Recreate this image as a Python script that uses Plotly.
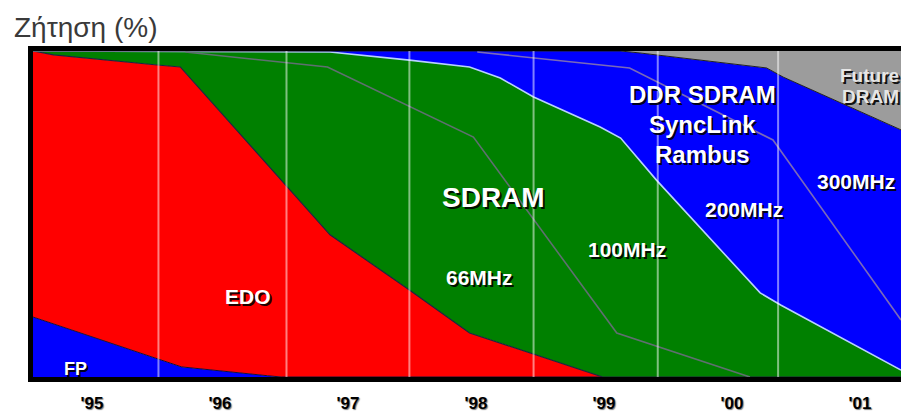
import plotly.graph_objects as go

# ---------------- data (cumulative upper boundaries, % of demand) ----------------
x_start, x_end = 1994.54, 2001.32

fp_x = [1994.54, 1995.51, 1995.70, 1996.37, 1996.48, 2001.32]
fp_upper = [18.4, 5.8, 3.1, 0.4, 0, 0]

edo_x = [1994.54, 1994.70, 1995.51, 1995.69, 1996.86, 1997.48, 1997.95, 1998.99, 2001.32]
edo_upper = [100, 98.8, 95.7, 95.1, 43.6, 26.7, 13.5, 0, 0]

sdram_x = [1994.54, 1996.86, 1997.48, 1997.95, 1998.19, 1998.45, 1998.97, 1999.13,
           1999.41, 1999.77, 2000.22, 2000.38, 2001.32]
sdram_upper = [100, 99.7, 97.2, 95.1, 91.7, 85.9, 76.7, 73.3, 60.4, 45.1, 25.8, 22.1, 2.1]

ddr_x = [1994.54, 1999.13, 1999.28, 1999.75, 2000.27, 2000.40, 2001.32]
ddr_upper = [100, 100, 99.4, 97.2, 94.8, 92.0, 75.8]

future_x = [1994.54, 2001.32]
future_upper = [100, 100]

# speed-grade divider lines
sd66_100_x = [1995.73, 1996.84, 1997.98, 1999.10, 2000.14]
sd66_100_y = [99.7, 95.1, 73.6, 13.5, 0]

ddr200_300_x = [1998.01, 1998.97, 1999.20, 2000.32, 2001.32]
ddr200_300_y = [99.7, 95.7, 94.8, 72.7, 17.5]

year_ticks = [1995, 1996, 1997, 1998, 1999, 2000, 2001]
year_labels = ["'95", "'96", "'97", "'98", "'99", "'00", "'01"]
period_bounds = [1995.52, 1996.52, 1997.48, 1998.45, 1999.42, 2000.36]

# ---------------- figure ----------------
fig = go.Figure()

fig.add_trace(go.Scatter(x=[x_start, x_end], y=[0, 0], mode="lines",
                         line=dict(width=0), hoverinfo="skip", showlegend=False))
fig.add_trace(go.Scatter(x=fp_x, y=fp_upper, mode="lines", fill="tonexty",
                         fillcolor="#0000ff", line=dict(color="#10103a", width=1),
                         name="FP", showlegend=False))
fig.add_trace(go.Scatter(x=edo_x, y=edo_upper, mode="lines", fill="tonexty",
                         fillcolor="#ff0000", line=dict(color="#202040", width=1.2),
                         name="EDO", showlegend=False))
fig.add_trace(go.Scatter(x=sdram_x, y=sdram_upper, mode="lines", fill="tonexty",
                         fillcolor="#008000", line=dict(color="#b8d0ff", width=1.6),
                         name="SDRAM", showlegend=False))
fig.add_trace(go.Scatter(x=ddr_x, y=ddr_upper, mode="lines", fill="tonexty",
                         fillcolor="#0000ff", line=dict(color="#202020", width=1),
                         name="DDR", showlegend=False))
fig.add_trace(go.Scatter(x=future_x, y=future_upper, mode="lines", fill="tonexty",
                         fillcolor="#9c9c9c", line=dict(width=0),
                         name="Future", showlegend=False))

fig.add_trace(go.Scatter(x=sd66_100_x, y=sd66_100_y, mode="lines",
                         line=dict(color="#5f6f70", width=1.6), showlegend=False))
fig.add_trace(go.Scatter(x=ddr200_300_x, y=ddr200_300_y, mode="lines",
                         line=dict(color="#7a6ab8", width=1.6), showlegend=False))

for b in period_bounds:
    fig.add_shape(type="line", xref="x", yref="paper", x0=b, x1=b, y0=0, y1=1,
                  line=dict(color="rgba(255,255,255,0.5)", width=2), layer="above")

shadow = "2px 2px 0px rgba(0,0,0,0.9)"
fam = "Liberation Sans, Arial, sans-serif"


def label(text, x, y, size, color="#ffffff", anchor="center"):
    fig.add_annotation(text=text, x=x, y=y, xref="x", yref="y", showarrow=False,
                       xanchor=anchor, yanchor="middle",
                       font=dict(family=fam, size=size, color=color, weight="bold",
                                 shadow=shadow))


label("FP", 1994.875, 2.4, 18)
label("EDO", 1996.22, 24.8, 21)
label("66MHz", 1998.03, 30.4, 21)
label("SDRAM", 1998.14, 55.2, 28)
label("100MHz", 1999.18, 39.0, 21)
label("200MHz", 2000.09, 51.5, 21)
label("300MHz", 2000.97, 60.1, 21)
label("DDR SDRAM", 1999.77, 86.8, 24)
label("SyncLink", 1999.77, 77.6, 24)
label("Rambus", 1999.77, 68.4, 24)
label("Future", 2000.83, 92.6, 19, color="#e6e6e6", anchor="left")
label("DRAM", 2000.84, 85.9, 19, color="#e6e6e6", anchor="left")

fig.update_layout(
    width=901, height=414,
    margin=dict(l=33, r=0, t=51, b=37),
    paper_bgcolor="white", plot_bgcolor="white",
    title=dict(text="Ζήτηση (%)", xref="container", yref="container",
               x=14 / 901, xanchor="left", y=1 - 27 / 414, yanchor="middle",
               font=dict(family=fam, size=28, color="#3a3a3a")),
    xaxis=dict(range=[x_start, x_end], tickmode="array", tickvals=year_ticks,
               ticktext=year_labels, showgrid=False, zeroline=False,
               showline=True, linewidth=5, linecolor="black", mirror=True,
               ticks="", ticklabelstandoff=7, automargin=False,
               tickfont=dict(family=fam, size=17, color="black", weight="bold",
                             shadow="1px 1px 1px rgba(0,0,0,0.5)")),
    yaxis=dict(range=[0, 100], showgrid=False, zeroline=False, showticklabels=False,
               showline=True, linewidth=5, linecolor="black", mirror=True, ticks="",
               automargin=False),
    showlegend=False,
)

# remove the browser's default 8px page margin so the figure fills the window
fig.write_html("out.html", config={"displayModeBar": False},
               post_script="document.body.style.margin='0';document.body.style.overflow='hidden';")
